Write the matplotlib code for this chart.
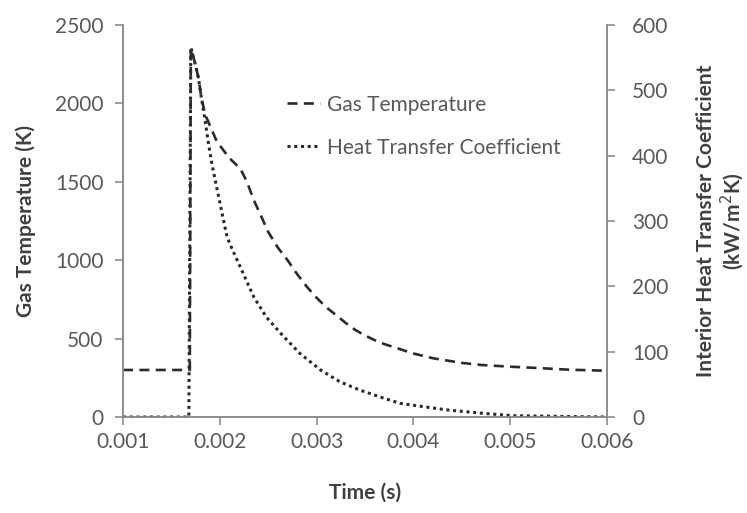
# %% Load libraries
import matplotlib
matplotlib.use('Agg')
import matplotlib.pyplot as plt

# %% Data
# gas temperature, K
t_gas = [0.001, 0.00169, 0.0017, 0.00174, 0.00178, 0.00181, 0.00185,
         0.00197, 0.0021, 0.00221, 0.00228, 0.00235, 0.00242, 0.0025,
         0.0026, 0.0027, 0.0028, 0.0029, 0.003, 0.0031, 0.0032, 0.0033,
         0.0034, 0.0035, 0.0036, 0.0037, 0.0038, 0.004, 0.0042, 0.0045,
         0.0047, 0.005, 0.0053, 0.0056, 0.006]
T_gas = [300, 300, 2350, 2266, 2160, 2034, 1926,
         1756, 1650, 1586, 1500, 1384, 1290, 1180,
         1080, 1000, 910, 830, 760, 700, 650, 600,
         555, 520, 490, 465, 445, 405, 375, 345,
         332, 321, 312, 302, 295]

# heat transfer coefficient, kW/m2K
t_htc = [0.001, 0.00168, 0.0017, 0.00174, 0.00178, 0.00181, 0.00185,
         0.00188, 0.00192, 0.00197, 0.00202, 0.00207, 0.0021, 0.00221,
         0.00235, 0.00248, 0.00266, 0.00283, 0.00304, 0.00324, 0.00345,
         0.00369, 0.00386, 0.004, 0.00434, 0.00469, 0.00503, 0.0055, 0.006]
h_htc = [0, 0, 566, 544, 518, 488, 452,
         421, 386, 350, 314, 279, 266, 230,
         184, 153, 123, 97, 72, 54, 41,
         29, 21, 18, 11, 6, 2, 1, 0]

x_ticks = [0.001, 0.002, 0.003, 0.004, 0.005, 0.006]
y1_ticks = [0, 500, 1000, 1500, 2000, 2500]
y2_ticks = [0, 100, 200, 300, 400, 500, 600]

# %% Setup
plt.rcParams['font.family'] = ['Lato', 'DejaVu Sans']
text_col = '#595959'
axis_col = '#8c8c8c'
line_col = '#2b2b2b'
fs = 15

fig = plt.figure(figsize=(7.47, 5.13), dpi=100)
ax = fig.add_axes([0.1647, 0.1871, 0.6479, 0.7642])
ax2 = ax.twinx()

# --+ plot data
l1, = ax.plot(t_gas, T_gas, color=line_col, lw=1.9,
              linestyle=(0, (3.8, 2.4)), label='Gas Temperature')
l2, = ax2.plot(t_htc, h_htc, color=line_col, lw=2.2,
               linestyle=(0, (1.0, 1.2)), label='Heat Transfer Coefficient')

# --+ axes limits and ticks
ax.set_xlim(0.001, 0.006)
ax.set_ylim(0, 2500)
ax2.set_ylim(0, 600)
ax.set_xticks(x_ticks)
ax.set_xticklabels([f'{v:.3f}' for v in x_ticks])
ax.set_yticks(y1_ticks)
ax2.set_yticks(y2_ticks)

for a in (ax, ax2):
    for s in a.spines.values():
        s.set_color(axis_col)
        s.set_linewidth(1.2)
    a.spines['top'].set_visible(False)
    a.tick_params(colors=axis_col, labelcolor=text_col, labelsize=fs,
                  length=6, width=1.2, direction='out')
ax.tick_params(axis='x', pad=5)
ax.tick_params(axis='y', pad=8)
ax2.tick_params(axis='y', pad=12)

# --+ labels
ax.set_xlabel('Time (s)', fontsize=fs, fontweight='bold', color='#404040',
              labelpad=22)
ax.set_ylabel('Gas Temperature (K)', fontsize=fs, fontweight='bold',
              color='#404040', labelpad=14)
ax2.set_ylabel('Interior Heat Transfer Coefficient\n(kW/m$^{2}$K)',
               fontsize=fs, fontweight='bold', color='#404040', labelpad=20,
               linespacing=1.1)

# --+ legend
leg = ax.legend(handles=[l1, l2], loc='upper left',
                bbox_to_anchor=(0.3, 0.87), frameon=False, fontsize=fs,
                handlelength=1.6, handletextpad=0.3, labelspacing=1.1)
for txt in leg.get_texts():
    txt.set_color(text_col)

fig.savefig('out.png', dpi=100)
